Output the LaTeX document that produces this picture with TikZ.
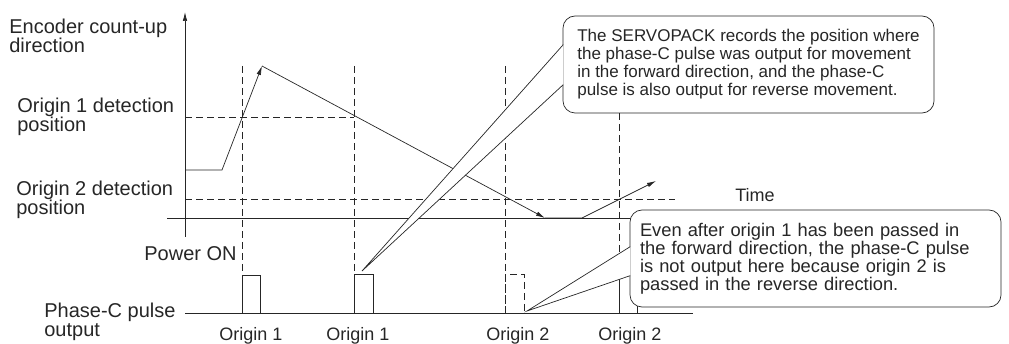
\documentclass[tikz,border=0pt]{standalone}
\usepackage{fontspec}
\setmainfont{Liberation Sans}
\usetikzlibrary{arrows.meta,calc}

\begin{document}
\begin{tikzpicture}[x=1pt,y=-1pt,color=black!85,line width=0.7pt,
  >={Latex[length=9pt,width=4.5pt]},
  guide/.style={dash pattern=on 7pt off 4pt,line width=0.6pt},
  lbl/.style={inner sep=0pt,align=left,font=\fontsize{20}{19}\selectfont},
  tick/.style={inner sep=0pt,font=\fontsize{18}{18}\selectfont},
  note/.style={draw,fill=white,rounded corners=12pt,minimum width=371pt,
    minimum height=97pt,inner xsep=10pt,align=left,
    font=\fontsize{17}{18}\selectfont}]
\useasboundingbox (0,0) rectangle (1009,344);
% axes
\coordinate (O) at (185,237);
\coordinate (Ytop) at (185,12);
\coordinate (T0) at (167,218);
\coordinate (T1) at (800,218);
\coordinate (B0) at (185,313);
\coordinate (B1) at (693,313);
\draw[->] (O) -- (Ytop);
\draw (T0) -- (T1);
\draw (B0) -- (B1);
% detection positions and origin passes
\draw[guide] (185,117) -- (354,117);
\draw[guide] (185,199) -- (675,199);
\draw[guide] (242,66) -- (242,275);
\draw[guide] (354,66) -- (354,274);
\draw[guide] (505,66) -- (505,313);
\draw[guide] (619,113) -- (619,275);
% encoder position over time
\coordinate (s0) at (185,170);
\coordinate (s1) at (222,170);
\coordinate (peak) at (262,66);
\coordinate (low) at (545,218);
\coordinate (s4) at (582,218);
\coordinate (s5) at (656,181);
\draw[->] (s0) -- (s1) -- (peak);
\draw[->] (peak) -- (low);
\draw[->] (low) -- (s4) -- (s5);
% phase-C pulses
\draw (242,313) rectangle (260,275);
\draw (354,313) rectangle (373,274);
\draw[guide] (505,313) |- (524,274) -- (524,313);
\draw (619,313) rectangle (637,275);
% labels (base = last line)
\node[lbl,anchor=base west] (enc) at (9,53) {Encoder count-up\\direction};
\node[lbl,anchor=base west] (pos1) at (17,132) {Origin 1 detection\\position};
\node[lbl,anchor=base west] (pos2) at (16,215) {Origin 2 detection\\position};
\node[lbl,anchor=base east] (pwr) at (237,261) {Power ON};
\node[lbl,anchor=base west] (phc) at (44,337) {Phase-C pulse\\output};
\node[tick,anchor=base west] (time) at (735,202) {Time};
\node[tick,anchor=base] (org1a) at (251,341) {Origin 1};
\node[tick,anchor=base] (org1b) at (358,341) {Origin 1};
\node[tick,anchor=base] (org2a) at (518,341) {Origin 2};
\node[tick,anchor=base] (org2b) at (630,341) {Origin 2};
% callouts
\coordinate (tip1) at (362,271);
\node[note] (n1) at (748.5,64.5) {The SERVOPACK records the position where\\the phase-C pulse was output for movement\\in the forward direction, and the phase-C\\pulse is also output for reverse movement.};
\draw[fill=white] ($(n1.north west)+(0.6,29)$) -- (tip1) -- ($(n1.north west)+(0.6,69)$);
\coordinate (tip2) at (527,311);
\node[note,text width=351pt,font=\fontsize{18.3}{18}\selectfont] (n2) at (815.5,258.5) {Even after origin 1 has been passed in\\the forward direction, the phase-C pulse\\is not output here because origin 2 is\\passed in the reverse direction.};
\draw[fill=white] ($(n2.north west)+(0.6,37)$) -- (tip2) -- ($(n2.north west)+(0.6,66)$);
\end{tikzpicture}
\end{document}
